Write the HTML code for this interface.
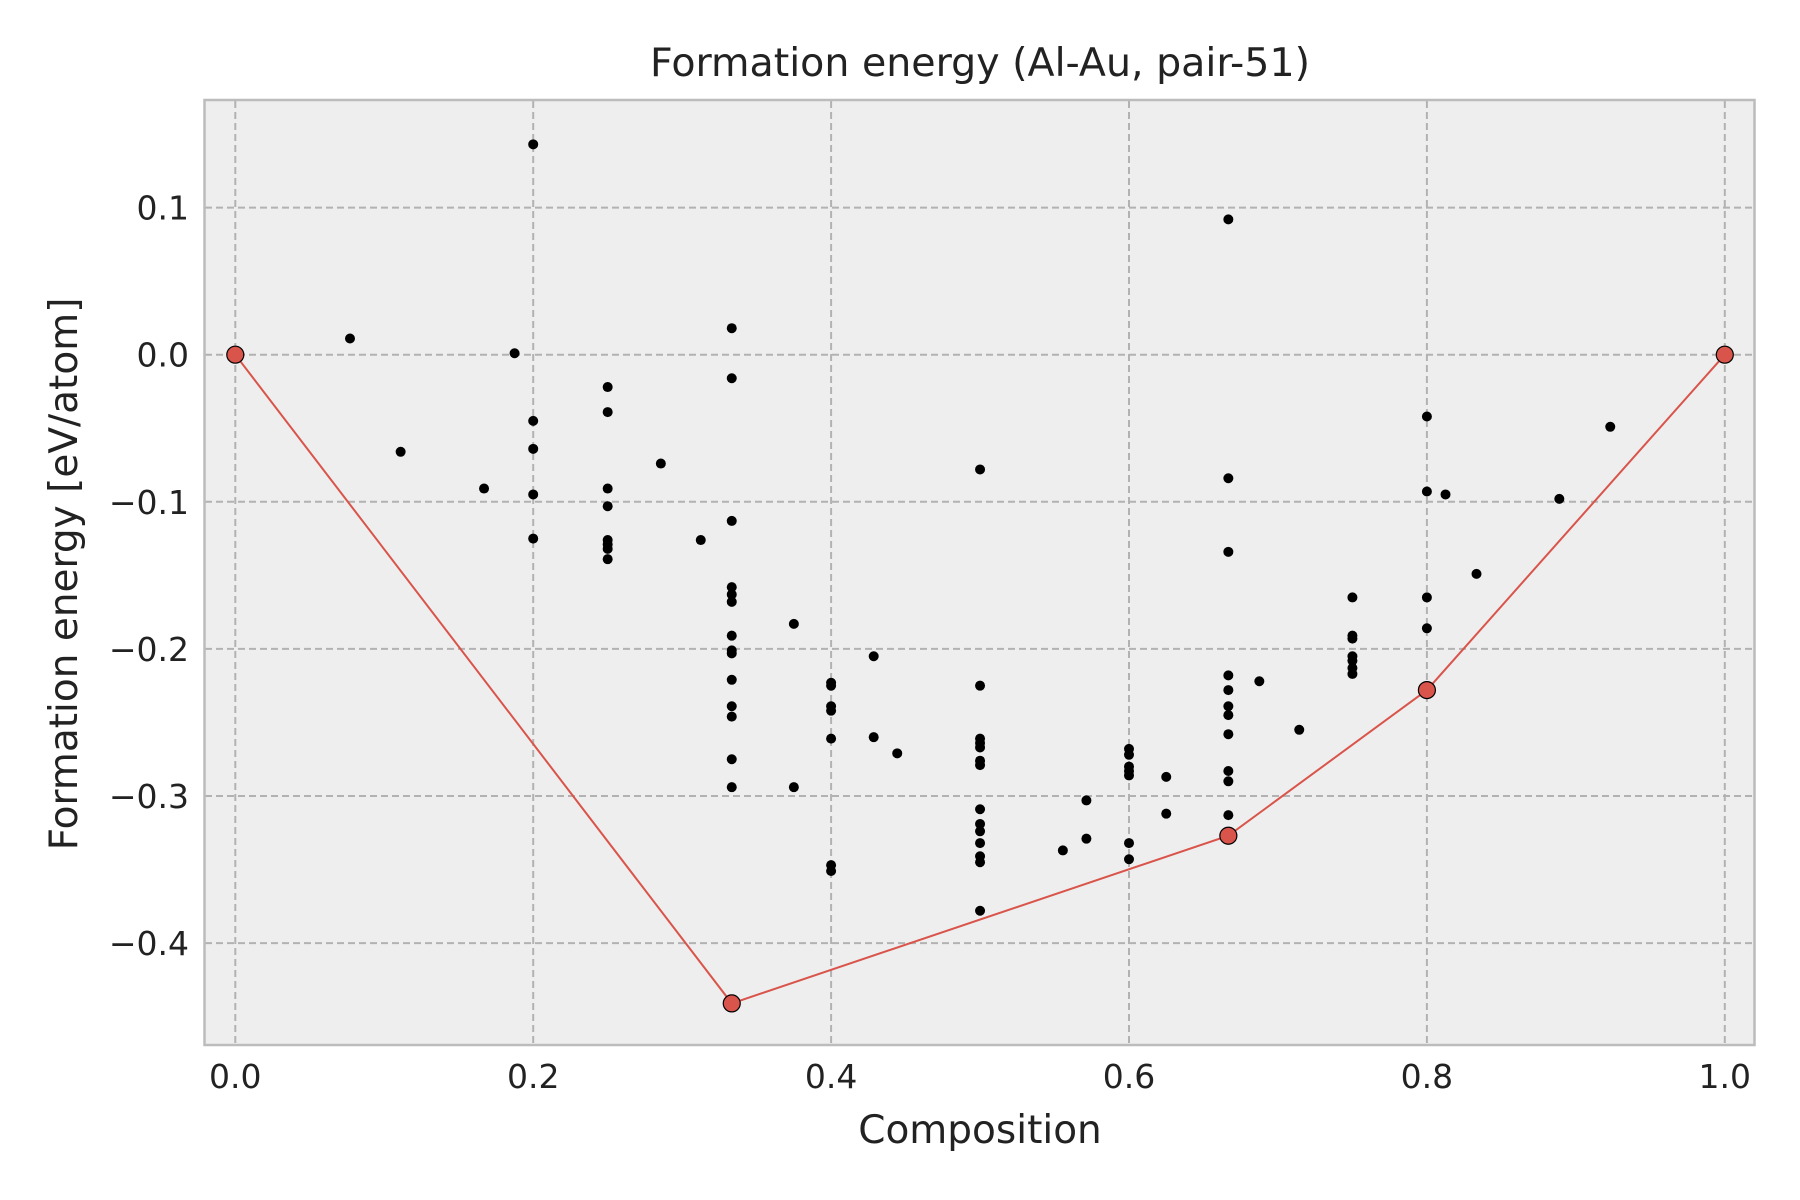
<!DOCTYPE html>
<html><head><meta charset="utf-8"><style>
html,body{margin:0;padding:0;background:#fff;}
svg{display:block;font-family:"DejaVu Sans","Liberation Sans",sans-serif;}
</style></head><body>
<svg id="chart" width="1800" height="1200" viewBox="0 0 1800 1200">
<rect x="0" y="0" width="1800" height="1200" fill="#fff"/>
<rect x="204.5" y="100" width="1550" height="945" fill="#eeeeee"/>
<g id="grid"></g>
<g id="hull"></g>
<g id="pts"></g>
<g id="hullpts"></g>
<rect x="204.5" y="100" width="1550" height="945" fill="none" stroke="#bcbcbc" stroke-width="2.5"/>
<g id="ticks"></g>
<text x="980" y="76" font-size="39.5" fill="#222" text-anchor="middle">Formation energy (Al-Au, pair-51)</text>
<text x="980" y="1143" font-size="39" fill="#222" text-anchor="middle">Composition</text>
<text transform="translate(77,574) rotate(-90)" font-size="39" fill="#222" text-anchor="middle">Formation energy [eV/atom]</text>
</svg>
<script>
const xTicks=[0,0.2,0.4,0.6,0.8,1.0];
const xTickLabels=["0.0","0.2","0.4","0.6","0.8","1.0"];
const yTicks=[0.1,0,-0.1,-0.2,-0.3,-0.4];
const yTickLabels=["0.1","0.0","\u22120.1","\u22120.2","\u22120.3","\u22120.4"];
const compX=[0.077,0.111,0.167,0.1875,0.2,0.2,0.2,0.2,0.2,
0.25,0.25,0.25,0.25,0.25,0.25,0.25,0.25,0.2857,0.3125,
0.3333,0.3333,0.3333,0.3333,0.3333,0.3333,0.3333,0.3333,0.3333,0.3333,0.3333,0.3333,0.3333,0.3333,
0.375,0.375,0.4,0.4,0.4,0.4,0.4,0.4,0.4,0.4286,0.4286,0.4444,
0.5,0.5,0.5,0.5,0.5,0.5,0.5,0.5,0.5,0.5,0.5,0.5,0.5,0.5,
0.5556,0.5714,0.5714,0.6,0.6,0.6,0.6,0.6,0.6,0.6,0.625,0.625,
0.6667,0.6667,0.6667,0.6667,0.6667,0.6667,0.6667,0.6667,0.6667,0.6667,0.6667,
0.6875,0.7143,0.75,0.75,0.75,0.75,0.75,0.75,0.75,
0.8,0.8,0.8,0.8,0.8125,0.8333,0.8889,0.9231];
const energyY=[0.011,-0.066,-0.091,0.001,0.143,-0.045,-0.064,-0.095,-0.125,
-0.022,-0.039,-0.091,-0.103,-0.126,-0.129,-0.132,-0.139,-0.074,-0.126,
0.018,-0.016,-0.113,-0.158,-0.163,-0.168,-0.191,-0.201,-0.203,-0.221,-0.239,-0.246,-0.275,-0.294,
-0.183,-0.294,-0.223,-0.225,-0.239,-0.242,-0.261,-0.347,-0.351,-0.205,-0.260,-0.271,
-0.078,-0.225,-0.261,-0.264,-0.267,-0.276,-0.279,-0.309,-0.319,-0.324,-0.332,-0.341,-0.345,-0.378,
-0.337,-0.303,-0.329,-0.268,-0.272,-0.280,-0.283,-0.286,-0.332,-0.343,-0.287,-0.312,
0.092,-0.084,-0.134,-0.218,-0.228,-0.239,-0.245,-0.258,-0.283,-0.290,-0.313,
-0.222,-0.255,-0.165,-0.191,-0.193,-0.205,-0.208,-0.213,-0.217,
-0.042,-0.093,-0.165,-0.186,-0.095,-0.149,-0.098,-0.049];
const hullX=[0,0.3333,0.6667,0.8,1.0];
const hullY=[0,-0.441,-0.327,-0.228,0];

const NS="http://www.w3.org/2000/svg";
function sx(v){return 235.3+v*(1724.8-235.3);}
function sy(v){return 354.7-v*1471;}
function mk(tag,attrs,parent){const e=document.createElementNS(NS,tag);for(const k in attrs)e.setAttribute(k,attrs[k]);parent.appendChild(e);return e;}
const grid=document.getElementById('grid'),ticks=document.getElementById('ticks');
xTicks.forEach((t,i)=>{
  const l=mk('line',{x1:sx(t),x2:sx(t),y1:101,y2:1044,stroke:'#b2b2b2','stroke-width':2,'stroke-dasharray':'7,4'},grid);
  
  
  const tx=mk('text',{x:sx(t),y:1088,'font-size':33,fill:'#222','text-anchor':'middle'},ticks);
  tx.textContent=xTickLabels[i];
  
  
});
yTicks.forEach((t,i)=>{
  const l=mk('line',{x1:205,x2:1754,y1:sy(t),y2:sy(t),stroke:'#b2b2b2','stroke-width':2,'stroke-dasharray':'7,4'},grid);
  
  
  const tx=mk('text',{x:189,y:sy(t)+12,'font-size':33,fill:'#222','text-anchor':'end'},ticks);
  tx.textContent=yTickLabels[i];
  
  
});
const pts=document.getElementById('pts');
compX.forEach((x,i)=>{
  const c=mk('circle',{cx:sx(x),cy:sy(energyY[i]),r:5,fill:'#000'},pts);
  
  
});
const hull=document.getElementById('hull');
const pl=mk('polyline',{points:hullX.map((x,i)=>sx(x)+','+sy(hullY[i])).join(' '),fill:'none',stroke:'#d9544a','stroke-width':2},hull);


const hp=document.getElementById('hullpts');
hullX.forEach((x,i)=>{
  const c=mk('circle',{cx:sx(x),cy:sy(hullY[i]),r:8.5,fill:'#d9544a',stroke:'#000','stroke-width':1.2},hp);
  
  
});
</script>
</body></html>
